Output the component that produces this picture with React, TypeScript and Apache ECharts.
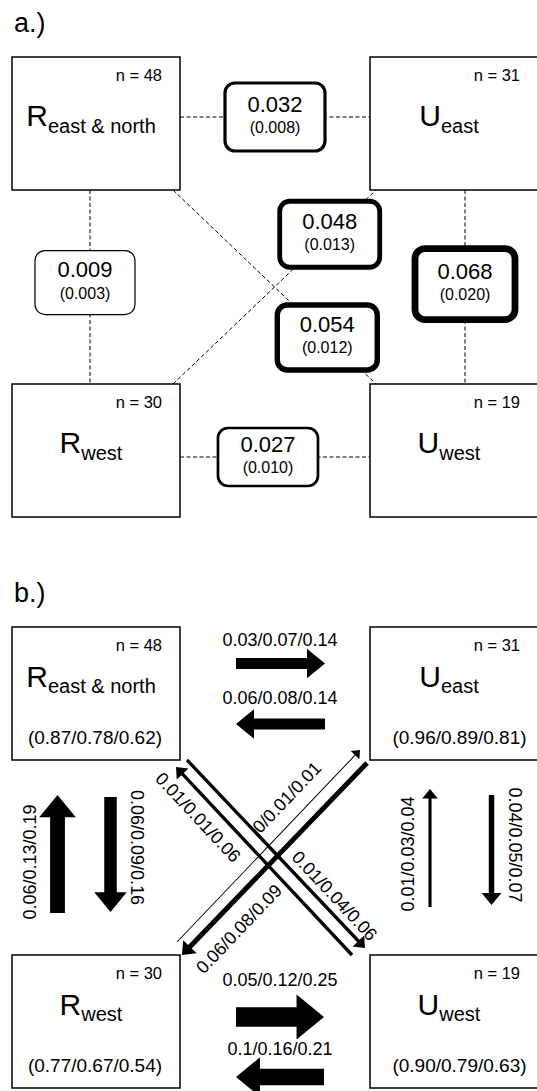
import React, { useEffect, useRef } from "react";
import * as echarts from "echarts";

// ---------------- data ----------------
const panelLabels = ["a.)", "b.)"];
const popLetters = ["R", "U", "R", "U"];
const popSubscripts = ["east & north", "east", "west", "west"];
const sampleSizes = [48, 31, 30, 19];
const selfRecruitment = [
  [0.87, 0.78, 0.62],
  [0.96, 0.89, 0.81],
  [0.77, 0.67, 0.54],
  [0.9, 0.79, 0.63],
];

// pairwise differentiation (panel a)
const fstFrom = [0, 0, 2, 0, 1, 2];
const fstTo = [1, 2, 1, 3, 3, 3];
const fstValues = [0.032, 0.009, 0.048, 0.054, 0.068, 0.027];
const fstErrors = [0.008, 0.003, 0.013, 0.012, 0.02, 0.01];

// migration rates (panel b): low / mid / high
const migFrom = [0, 1, 2, 3, 2, 0, 3, 1, 2, 1, 3, 0];
const migTo = [1, 0, 3, 2, 0, 2, 1, 3, 1, 2, 0, 3];
const migLow = [0.03, 0.06, 0.05, 0.1, 0.06, 0.06, 0.01, 0.04, 0, 0.06, 0.01, 0.01];
const migMid = [0.07, 0.08, 0.12, 0.16, 0.13, 0.09, 0.03, 0.05, 0.01, 0.08, 0.01, 0.04];
const migHigh = [0.14, 0.14, 0.25, 0.21, 0.19, 0.16, 0.04, 0.07, 0.01, 0.09, 0.06, 0.06];

// ---------------- layout ----------------
const W = 537;
const H = 1091;
const FONT = '"Liberation Sans", Arial, Helvetica, sans-serif';
const COL_X = [12, 370];
const BOX_W = [168, 180];
const BOX_H = 133;
const ROW_Y = [
  [57, 384],
  [627, 955],
];
const N_DX = 150;
const N_DY = 17.5;
const LABEL_DX = 79;
const LETTER_DY = [58.5, 49];
const SUB_DY = 10;
const RECRUIT_DX = [83, 89.5];
const RECRUIT_DY = 110;
const PANEL_LABEL_POS = [
  [14, 23],
  [14, 593],
];

const FST_LAYOUT = [
  { kind: "h", off: 60, t: 0.5, dx: 0, h: 68 },
  { kind: "v", off: 78, t: 0.477, dx: -5, h: 64 },
  { kind: "d", off: 0, t: 0.772, dx: 0, h: 66 },
  { kind: "d", off: 0, t: 0.76, dx: 0, h: 65 },
  { kind: "v", off: 95, t: 0.485, dx: 0, h: 71 },
  { kind: "h", off: 73, t: 0.463, dx: 0, h: 58 },
];
const FST_BOX_W = 100;
const DIAG_INSET = [161, 6];

const ARROW_LAYOUT = [
  { tail: [236, 663.5], tip: [325, 663.5], label: [280, 640], rot: 0 },
  { tail: [325, 724], tip: [236, 724], label: [280, 698], rot: 0 },
  { tail: [236, 1017], tip: [324, 1017], label: [280, 980], rot: 0 },
  { tail: [324, 1077], tip: [236, 1077], label: [280, 1049], rot: 0 },
  { tail: [57.5, 913], tip: [57.5, 795], label: [30, 862], rot: 90 },
  { tail: [110.5, 797], tip: [110.5, 912], label: [137, 847.5], rot: -90 },
  { tail: [430, 907], tip: [430, 789], label: [408, 854], rot: 90 },
  { tail: [491.5, 795], tip: [491.5, 905], label: [515, 845], rot: -90 },
  { tail: [177, 942], tip: [360, 750], label: [287, 797.5], rot: 46.4 },
  { tail: [367, 763], tip: [182, 955], label: [239, 929], rot: 46.4 },
  { tail: [352, 955], tip: [176, 767], label: [198, 817.5], rot: -46.9 },
  { tail: [187, 760], tip: [365, 948], label: [334.5, 896], rot: -46.9 },
];
const WIDTH_PER_RATE = 78;

// ---------------- helpers ----------------
let measureCtx: CanvasRenderingContext2D | null = null;
function textWidth(text: string, size: number): number {
  if (!measureCtx && typeof document !== "undefined") {
    measureCtx = document.createElement("canvas").getContext("2d");
  }
  if (measureCtx) {
    measureCtx.font = `${size}px ${FONT}`;
    return measureCtx.measureText(text).width;
  }
  return text.length * size * 0.55;
}

function txt(text: string, x: number, y: number, size: number, align = "center", rotDeg = 0) {
  return {
    type: "text",
    x,
    y,
    rotation: (rotDeg * Math.PI) / 180,
    style: {
      text,
      fill: "#000",
      fontSize: size,
      fontFamily: FONT,
      align,
      textAlign: align,
      verticalAlign: "middle",
      textVerticalAlign: "middle",
    },
  };
}

function nodeBox(panel: number, node: number) {
  const col = node % 2;
  const row = Math.floor(node / 2);
  return { x: COL_X[col], y: ROW_Y[panel][row], w: BOX_W[col], h: BOX_H, col, row };
}

function fstGeometry(k: number) {
  const lay = FST_LAYOUT[k];
  const a = nodeBox(0, fstFrom[k]);
  const b = nodeBox(0, fstTo[k]);
  let p1: number[];
  let p2: number[];
  if (lay.kind === "h") {
    const y = a.y + lay.off;
    p1 = [COL_X[0] + BOX_W[0], y];
    p2 = [COL_X[1], y];
  } else if (lay.kind === "v") {
    const x = a.x + lay.off;
    p1 = [x, ROW_Y[0][0] + BOX_H];
    p2 = [x, ROW_Y[0][1]];
  } else {
    const left = a.col === 0 ? a : b;
    const right = a.col === 0 ? b : a;
    p1 = [left.x + DIAG_INSET[0], left.row === 0 ? left.y + left.h : left.y];
    p2 = [right.x + DIAG_INSET[1], right.row === 0 ? right.y + right.h : right.y];
  }
  const c = [p1[0] + (p2[0] - p1[0]) * lay.t + lay.dx, p1[1] + (p2[1] - p1[1]) * lay.t];
  return { p1, p2, c, h: lay.h };
}

function arrowPoints(t: number[], p: number[], w: number) {
  const dx = p[0] - t[0];
  const dy = p[1] - t[1];
  const len = Math.hypot(dx, dy);
  const ux = dx / len;
  const uy = dy / len;
  const nx = -uy;
  const ny = ux;
  const L = 1.1 * w + 6;
  const HW = 1.8 * w + 10;
  const bx = p[0] - ux * L;
  const by = p[1] - uy * L;
  return [
    [t[0] + (nx * w) / 2, t[1] + (ny * w) / 2],
    [bx + (nx * w) / 2, by + (ny * w) / 2],
    [bx + (nx * HW) / 2, by + (ny * HW) / 2],
    [p[0], p[1]],
    [bx - (nx * HW) / 2, by - (ny * HW) / 2],
    [bx - (nx * w) / 2, by - (ny * w) / 2],
    [t[0] - (nx * w) / 2, t[1] - (ny * w) / 2],
  ];
}

function indexData(n: number) {
  return Array.from({ length: n }, (_, i) => [i, 0]);
}

function buildOption() {
  const base = { type: "custom", coordinateSystem: "cartesian2d", silent: true, clip: false };
  return {
    animation: false,
    grid: { left: 0, right: 0, top: 0, bottom: 0 },
    xAxis: { type: "value", min: 0, max: W, show: false },
    yAxis: { type: "value", min: 0, max: H, inverse: true, show: false },
    series: [
      // panel labels
      {
        ...base,
        z: 5,
        data: indexData(panelLabels.length),
        renderItem: (params: any, api: any) => {
          const i = params.dataIndex;
          const [x, y] = api.coord(PANEL_LABEL_POS[i]);
          return txt(panelLabels[i], x, y, 27, "left");
        },
      },
      // Fst connection lines
      {
        ...base,
        z: 1,
        data: indexData(fstValues.length),
        renderItem: (params: any, api: any) => {
          const g = fstGeometry(params.dataIndex);
          const a = api.coord(g.p1);
          const b = api.coord(g.p2);
          return {
            type: "line",
            shape: { x1: a[0], y1: a[1], x2: b[0], y2: b[1] },
            style: { stroke: "#000", lineWidth: 1, lineDash: [4, 2.5] },
          };
        },
      },
      // population boxes (both panels)
      {
        ...base,
        z: 2,
        data: indexData(8),
        renderItem: (params: any, api: any) => {
          const i = params.dataIndex;
          const panel = Math.floor(i / 4);
          const node = i % 4;
          const b = nodeBox(panel, node);
          const [x0, y0] = api.coord([b.x, b.y]);
          const [x1, y1] = api.coord([b.x + b.w, b.y + b.h]);
          const children: any[] = [
            {
              type: "rect",
              shape: { x: x0, y: y0, width: x1 - x0, height: y1 - y0 },
              style: { fill: "#fff", stroke: "#000", lineWidth: 1.5 },
            },
          ];
          const [nx, ny] = api.coord([b.x + N_DX, b.y + N_DY]);
          children.push(txt(`n = ${sampleSizes[node]}`, nx, ny, 16.5, "right"));
          const letter = popLetters[node];
          const sub = popSubscripts[node];
          const lw = textWidth(letter, 30);
          const sw = textWidth(sub, 20);
          const left = b.x + LABEL_DX - (lw + sw) / 2;
          const [lx, ly] = api.coord([left, b.y + LETTER_DY[panel]]);
          children.push(txt(letter, lx, ly, 30, "left"));
          const [sx, sy] = api.coord([left + lw, b.y + LETTER_DY[panel] + SUB_DY]);
          children.push(txt(sub, sx, sy, 20, "left"));
          if (panel === 1) {
            const r = selfRecruitment[node];
            const [rx, ry] = api.coord([b.x + RECRUIT_DX[b.col], b.y + RECRUIT_DY]);
            children.push(
              txt(`(${r[0].toFixed(2)}/${r[1].toFixed(2)}/${r[2].toFixed(2)})`, rx, ry, 19, "center")
            );
          }
          return { type: "group", children };
        },
      },
      // Fst value boxes
      {
        ...base,
        z: 3,
        data: indexData(fstValues.length),
        renderItem: (params: any, api: any) => {
          const k = params.dataIndex;
          const g = fstGeometry(k);
          const [cx, cy] = api.coord(g.c);
          const bw = Math.max(1.2, fstValues[k] * 100);
          return {
            type: "group",
            children: [
              {
                type: "rect",
                shape: { x: cx - FST_BOX_W / 2, y: cy - g.h / 2, width: FST_BOX_W, height: g.h, r: 10 },
                style: { fill: "#fff", stroke: "#000", lineWidth: bw },
              },
              txt(fstValues[k].toFixed(3), cx, cy - 13, 22, "center"),
              txt(`(${fstErrors[k].toFixed(3)})`, cx, cy + 10.5, 16, "center"),
            ],
          };
        },
      },
      // migration arrows
      {
        ...base,
        z: 4,
        data: indexData(migMid.length),
        renderItem: (params: any, api: any) => {
          const k = params.dataIndex;
          const lay = ARROW_LAYOUT[k];
          const t = api.coord(lay.tail);
          const p = api.coord(lay.tip);
          const diag = t[0] !== p[0] && t[1] !== p[1];
          const w = Math.max(1, (migHigh[k] * WIDTH_PER_RATE) / (diag ? Math.SQRT2 : 1));
          const [lx, ly] = api.coord(lay.label);
          return {
            type: "group",
            children: [
              {
                type: "polygon",
                shape: { points: arrowPoints(t, p, w) },
                style: { fill: "#000", stroke: "none" },
              },
              txt(`${migLow[k]}/${migMid[k]}/${migHigh[k]}`, lx, ly, 18, "center", lay.rot),
            ],
          };
        },
      },
    ],
  };
}

export default function App() {
  const ref = useRef<HTMLDivElement>(null);
  useEffect(() => {
    if (!ref.current) return;
    const chart = echarts.init(ref.current, null, { renderer: "svg" });
    chart.setOption(buildOption() as any);
    return () => chart.dispose();
  }, []);
  return (
    <div
      ref={ref}
      style={{ position: "fixed", left: 0, top: 0, width: W, height: H, background: "#fff" }}
    />
  );
}
